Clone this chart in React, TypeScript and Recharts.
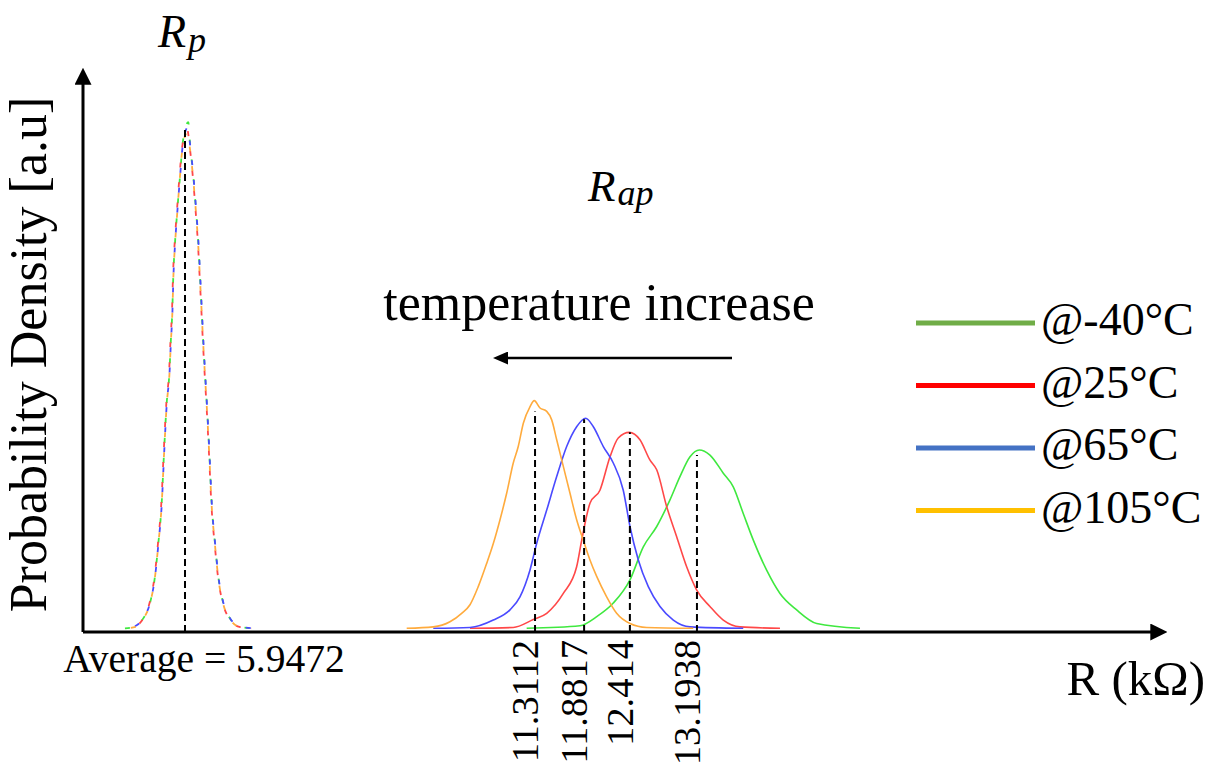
import React from 'react';
import { LineChart, Line, XAxis, YAxis, ReferenceLine, Legend } from 'recharts';

type Pt = { r: number; d: number };
const pts = (arr: number[][]): Pt[] => arr.map(([r, d]) => ({ r, d }));

// ---- series names / colours ----
const seriesNames = ['@-40°C', '@25°C', '@65°C', '@105°C'];
const curveColors = ['#3fe83f', '#ff4848', '#4a4aff', '#ffab3d'];
const legendColors = ['#70AD47', '#FF0000', '#4472C4', '#FFC000'];

// ---- Rp distributions (kΩ, density a.u.) ----
const rpM40 = pts([
  [5.249, 0.0065], [5.366, 0.009], [5.462, 0.024], [5.540, 0.051], [5.598, 0.098], [5.637, 0.156],
  [5.676, 0.227], [5.703, 0.315], [5.734, 0.403], [5.765, 0.455], [5.781, 0.509], [5.800, 0.568],
  [5.811, 0.627], [5.831, 0.686], [5.858, 0.744], [5.889, 0.803], [5.920, 0.862], [5.986, 0.899],
  [6.005, 0.862], [6.044, 0.803], [6.075, 0.744], [6.102, 0.686], [6.122, 0.627], [6.141, 0.568],
  [6.160, 0.509], [6.180, 0.455], [6.200, 0.403], [6.230, 0.315], [6.257, 0.227], [6.296, 0.156],
  [6.334, 0.098], [6.392, 0.051], [6.470, 0.024], [6.586, 0.009], [6.741, 0.0065],
]);
const rp25 = pts([
  [5.255, 0.0065], [5.370, 0.010], [5.465, 0.025], [5.538, 0.053], [5.595, 0.100], [5.634, 0.158],
  [5.673, 0.230], [5.700, 0.318], [5.731, 0.405], [5.762, 0.457], [5.778, 0.512], [5.797, 0.570],
  [5.808, 0.630], [5.828, 0.688], [5.855, 0.746], [5.884, 0.805], [5.914, 0.855], [5.975, 0.885],
  [6.000, 0.858], [6.040, 0.800], [6.071, 0.742], [6.098, 0.684], [6.118, 0.625], [6.138, 0.566],
  [6.157, 0.507], [6.177, 0.452], [6.197, 0.400], [6.227, 0.312], [6.254, 0.225], [6.293, 0.154],
  [6.331, 0.097], [6.389, 0.050], [6.466, 0.023], [6.580, 0.009], [6.730, 0.0065],
]);
const rp65 = pts([
  [5.252, 0.0065], [5.375, 0.011], [5.468, 0.026], [5.542, 0.052], [5.600, 0.099], [5.639, 0.157],
  [5.678, 0.228], [5.705, 0.316], [5.736, 0.404], [5.767, 0.456], [5.783, 0.510], [5.802, 0.569],
  [5.813, 0.628], [5.833, 0.687], [5.860, 0.745], [5.890, 0.803], [5.921, 0.858], [5.980, 0.890],
  [6.006, 0.860], [6.046, 0.802], [6.077, 0.744], [6.104, 0.686], [6.124, 0.627], [6.143, 0.568],
  [6.162, 0.509], [6.182, 0.454], [6.202, 0.402], [6.232, 0.314], [6.259, 0.226], [6.298, 0.155],
  [6.336, 0.098], [6.394, 0.051], [6.472, 0.024], [6.600, 0.009], [6.760, 0.0065],
]);
const rp105 = pts([
  [5.260, 0.0065], [5.372, 0.009], [5.466, 0.024], [5.541, 0.051], [5.599, 0.098], [5.638, 0.156],
  [5.677, 0.227], [5.704, 0.315], [5.735, 0.402], [5.766, 0.454], [5.782, 0.508], [5.801, 0.567],
  [5.812, 0.626], [5.832, 0.685], [5.859, 0.743], [5.887, 0.800], [5.917, 0.852], [5.970, 0.880],
  [6.002, 0.855], [6.042, 0.800], [6.073, 0.743], [6.100, 0.685], [6.120, 0.626], [6.140, 0.567],
  [6.159, 0.508], [6.179, 0.453], [6.199, 0.401], [6.229, 0.313], [6.256, 0.226], [6.295, 0.155],
  [6.333, 0.097], [6.391, 0.050], [6.468, 0.023], [6.583, 0.009], [6.720, 0.0065],
]);

// ---- Rap distributions (kΩ, density a.u.) ----
const apM40 = pts([
  [11.214, 0.0065], [11.834, 0.011], [12.028, 0.027], [12.221, 0.051], [12.415, 0.092], [12.570, 0.150],
  [12.726, 0.186], [12.880, 0.233], [12.996, 0.274], [13.113, 0.309], [13.221, 0.321], [13.345, 0.312],
  [13.500, 0.280], [13.616, 0.256], [13.732, 0.209], [13.849, 0.162], [14.004, 0.109], [14.159, 0.068],
  [14.353, 0.039], [14.586, 0.015], [15.089, 0.0065],
]);
const ap25 = pts([
  [10.555, 0.0065], [11.058, 0.008], [11.291, 0.022], [11.447, 0.033], [11.640, 0.068], [11.795, 0.115],
  [11.854, 0.162], [11.950, 0.227], [12.066, 0.250], [12.183, 0.309], [12.279, 0.342], [12.407, 0.352],
  [12.531, 0.339], [12.648, 0.303], [12.726, 0.286], [12.842, 0.221], [12.958, 0.168], [13.074, 0.115],
  [13.191, 0.074], [13.345, 0.045], [13.500, 0.021], [13.694, 0.009], [14.159, 0.0065],
]);
const ap65 = pts([
  [10.128, 0.0065], [10.555, 0.008], [10.826, 0.021], [11.020, 0.039], [11.136, 0.062], [11.252, 0.109],
  [11.330, 0.156], [11.447, 0.215], [11.563, 0.274], [11.679, 0.327], [11.795, 0.362], [11.900, 0.377],
  [11.989, 0.362], [12.105, 0.327], [12.221, 0.298], [12.337, 0.250], [12.415, 0.186], [12.512, 0.127],
  [12.628, 0.080], [12.764, 0.045], [12.919, 0.021], [13.113, 0.009], [13.732, 0.0065],
]);
const ap105 = pts([
  [9.819, 0.0065], [10.128, 0.009], [10.322, 0.018], [10.458, 0.033], [10.555, 0.048], [10.651, 0.080],
  [10.749, 0.121], [10.826, 0.156], [10.904, 0.198], [10.982, 0.245], [11.058, 0.298], [11.116, 0.327],
  [11.175, 0.368], [11.252, 0.397], [11.302, 0.408], [11.369, 0.395], [11.447, 0.389], [11.505, 0.374],
  [11.563, 0.339], [11.640, 0.292], [11.717, 0.245], [11.795, 0.198], [11.872, 0.162], [11.950, 0.127],
  [12.028, 0.098], [12.144, 0.062], [12.260, 0.033], [12.415, 0.015], [12.609, 0.008], [13.151, 0.0065],
]);

const rpSeries = [rpM40, rp25, rp65, rp105];
const apSeries = [apM40, ap25, ap65, ap105];

// ---- averages / ticks ----
const rpMean = 5.9472;
const rpDashTop = 0.889;
const apMeans = [13.1938, 12.414, 11.8817, 11.3112];
const apTickLabels = ['13.1938', '12.414', '11.8817', '11.3112'];
const apDashTop = [0.312, 0.352, 0.375, 0.389];

// ---- axis domains (two aligned views of the same kΩ axis) ----
const rpDomain: [number, number] = [4.7613, 17.1901];
const apDomain: [number, number] = [6.0556, 18.4844];
const yDomain: [number, number] = [0, 0.968];

const FONT = '"Liberation Serif", "Times New Roman", Times, serif';

const ApTick = (props: any) => {
  const { x, y, payload } = props;
  const i = apMeans.indexOf(payload.value);
  const label = i >= 0 ? apTickLabels[i] : String(payload.value);
  const bx = x + 3;
  return (
    <text x={bx} y={y} transform={`rotate(-90 ${bx} ${y})`} textAnchor="end"
      fontFamily={FONT} fontSize={38.5} fill="#000">{label}</text>
  );
};

const PTick = (props: any) => {
  const { x, y } = props;
  return (
    <text x={x + 19} y={y + 31} textAnchor="middle" fontFamily={FONT} fontSize={39.5} fill="#000">
      {`Average = ${rpMean}`}
    </text>
  );
};

const renderLegend = (props: any) => {
  const items = (props.payload || [])
    .filter((e: any) => seriesNames.indexOf(e.value) >= 0)
    .sort((a: any, b: any) => seriesNames.indexOf(a.value) - seriesNames.indexOf(b.value));
  return (
    <svg width={300} height={250} style={{ overflow: 'visible' }}>
      {items.map((e: any, k: number) => {
        const idx = seriesNames.indexOf(e.value);
        return (
          <g key={e.value}>
            <line x1={16} x2={135} y1={33 + k * 62.5} y2={33 + k * 62.5}
              stroke={legendColors[idx]} strokeWidth={5} />
            <text x={141} y={45 + k * 62.5} fontFamily={FONT} fontSize={46} fill="#000">{e.value}</text>
          </g>
        );
      })}
    </svg>
  );
};

export default function App() {
  return (
    <div style={{ position: 'absolute', left: 0, top: 0, width: 1211, height: 771, background: '#fff', fontFamily: FONT }}>
      <LineChart width={1211} height={771} margin={{ top: 83, right: 59, bottom: 137, left: 8 }}>
        <XAxis xAxisId="ap" type="number" dataKey="r" domain={apDomain} allowDataOverflow
          ticks={apMeans} interval={0} tick={<ApTick />} tickLine={false} height={1}
          axisLine={{ stroke: '#000', strokeWidth: 3, markerEnd: 'url(#axisArrow)' }}
          label={(p: any) => {
            const vb = p.viewBox || { x: 83, y: 632, width: 1069, height: 0 };
            return (
              <text x={vb.x + vb.width + 53} y={vb.y + 63} textAnchor="end" fontFamily={FONT} fontSize={49} fill="#000">
                R (kΩ)
              </text>
            );
          }} />
        <XAxis xAxisId="p" type="number" dataKey="r" domain={rpDomain} allowDataOverflow
          ticks={[rpMean]} interval={0} tick={<PTick />} tickLine={false} axisLine={false} height={1} />
        <YAxis type="number" domain={yDomain} allowDataOverflow tick={false} tickLine={false} width={75}
          axisLine={{ stroke: '#000', strokeWidth: 3, markerStart: 'url(#axisArrow)' }}
          label={(p: any) => {
            const vb = p.viewBox || { x: 8, y: 83, width: 75, height: 549 };
            const cx = vb.x + 38;
            const cy = vb.y + vb.height / 2 - 3;
            return (
              <text x={cx} y={cy} transform={`rotate(-90 ${cx} ${cy})`} textAnchor="middle"
                fontFamily={FONT} fontSize={52} fill="#000">Probability Density [a.u]</text>
            );
          }} />
        <Legend layout="vertical" align="center" verticalAlign="middle" content={renderLegend}
          wrapperStyle={{ left: 900, top: 290, width: 300, height: 250 }} />

        {rpSeries.map((s, i) => (
          <Line key={'rp' + i} xAxisId="p" data={s} dataKey="d" name={'Rp ' + seriesNames[i]}
            legendType="none" type="monotone" dot={false} stroke={curveColors[i]} strokeWidth={1.8}
            strokeDasharray="5 15" strokeDashoffset={i * 5} isAnimationActive={false} />
        ))}
        {apSeries.map((s, i) => (
          <Line key={'ap' + i} xAxisId="ap" data={s} dataKey="d" name={seriesNames[i]}
            type="monotone" dot={false} stroke={curveColors[i]} strokeWidth={1.6} isAnimationActive={false} />
        ))}

        <ReferenceLine xAxisId="p" segment={[{ x: rpMean, y: 0 }, { x: rpMean, y: rpDashTop }]}
          stroke="#000" strokeWidth={2} strokeDasharray="7 4" />
        {apMeans.map((m, i) => (
          <ReferenceLine key={'m' + i} xAxisId="ap" segment={[{ x: m, y: 0 }, { x: m, y: apDashTop[i] }]}
            stroke="#000" strokeWidth={2} strokeDasharray="7 4" />
        ))}
      </LineChart>

      <svg width={1211} height={771} style={{ position: 'absolute', left: 0, top: 0, pointerEvents: 'none' }}>
        <defs>
          <marker id="axisArrow" viewBox="0 0 10 10" refX="1" refY="5" markerWidth="17" markerHeight="17"
            markerUnits="userSpaceOnUse" orient="auto-start-reverse">
            <path d="M0,0 L10,5 L0,10 z" fill="#000" />
          </marker>
          <marker id="tempArrow" viewBox="0 0 15 13" refX="1" refY="6.5" markerWidth="15" markerHeight="13"
            markerUnits="userSpaceOnUse" orient="auto">
            <path d="M0,0 L15,6.5 L0,13 z" fill="#000" />
          </marker>
        </defs>
        <text x={158} y={47} fontFamily={FONT} fontStyle="italic" fontSize={46} fill="#000">
          R<tspan fontSize={36} dx={2} dy={5}>p</tspan>
        </text>
        <text x={588} y={201} fontFamily={FONT} fontStyle="italic" fontSize={45} fill="#000">
          R<tspan fontSize={36} dx={2} dy={4}>ap</tspan>
        </text>
        <text x={599} y={320} textAnchor="middle" fontFamily={FONT} fontSize={52} fill="#000">temperature increase</text>
        <line x1={732} y1={358} x2={507} y2={358} stroke="#000" strokeWidth={2.5} markerEnd="url(#tempArrow)" />
      </svg>
    </div>
  );
}
